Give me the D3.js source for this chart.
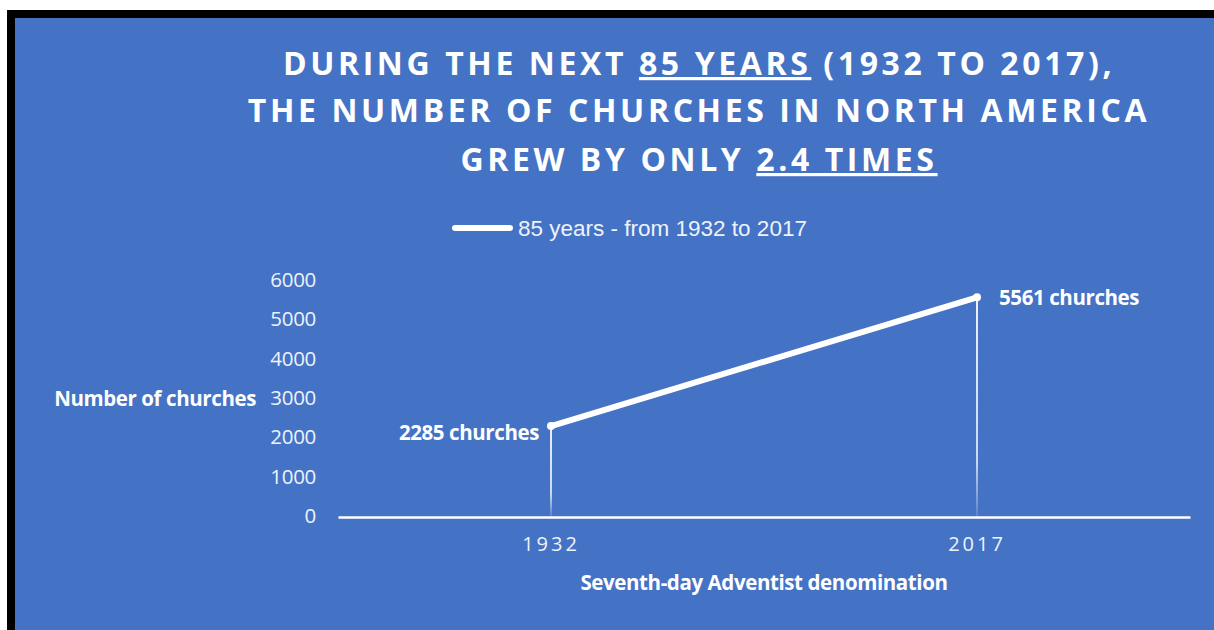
<!DOCTYPE html>
<html>
<head>
<meta charset="utf-8">
<script src="https://cdn.jsdelivr.net/npm/d3@7"></script>
<style>
  body { margin: 0; background: #fff; }
  svg { display: block; }
</style>
</head>
<body>
<div id="chart"></div>
<script>
// data
var years = ["1932", "2017"];
var churches = [2285, 5561];
var pointLabels = ["2285 churches", "5561 churches"];
var yTicks = [0, 1000, 2000, 3000, 4000, 5000, 6000];
var seriesName = "85 years - from 1932 to 2017";

var W = 1214, H = 630;
var svg = d3.select("#chart").append("svg")
  .attr("width", W).attr("height", H);

// frame
svg.append("rect").attr("x", 7).attr("y", 10).attr("width", W - 7).attr("height", H - 10).attr("fill", "#000");
svg.append("rect").attr("x", 15).attr("y", 18).attr("width", W - 15).attr("height", H - 18).attr("fill", "#4472c4");

var defs = svg.append("defs");
var grad = defs.append("linearGradient").attr("id", "fade")
  .attr("x1", 0).attr("y1", 0).attr("x2", 0).attr("y2", 1);
grad.append("stop").attr("offset", "0%").attr("stop-color", "#fff").attr("stop-opacity", 1);
grad.append("stop").attr("offset", "75%").attr("stop-color", "#fff").attr("stop-opacity", 0.8);
grad.append("stop").attr("offset", "100%").attr("stop-color", "#fff").attr("stop-opacity", 0.15);

// title
var title = svg.append("g")
  .attr("font-family", "'Open Sans', sans-serif")
  .attr("font-weight", "bold")
  .attr("font-size", 32)
  .attr("letter-spacing", 3.6)
  .attr("fill", "#fff")
  .attr("text-anchor", "middle");

var t1 = title.append("text").attr("x", 699).attr("y", 75);
t1.append("tspan").text("DURING THE NEXT ");
t1.append("tspan").style("text-decoration", "underline").text("85 YEARS");
t1.append("tspan").text(" (1932 TO 2017),");
title.append("text").attr("x", 699).attr("y", 122).text("THE NUMBER OF CHURCHES IN NORTH AMERICA");
var t3 = title.append("text").attr("x", 699).attr("y", 171);
t3.append("tspan").text("GREW BY ONLY ");
t3.append("tspan").style("text-decoration", "underline").text("2.4 TIMES");

// legend
svg.append("line").attr("x1", 455).attr("x2", 510).attr("y1", 228).attr("y2", 228)
  .attr("stroke", "#fff").attr("stroke-width", 6).attr("stroke-linecap", "round");
svg.append("text").attr("x", 518).attr("y", 236)
  .attr("font-family", "'Liberation Sans', Arial, sans-serif")
  .attr("font-size", 22.5).attr("fill", "#eef2fb")
  .text(seriesName);

// scales
var x = d3.scaleBand().domain(years).range([338, 1190]).padding(0);
var y = d3.scaleLinear().domain([0, 6000]).range([516, 280]);
var cx = function(d) { return x(d) + x.bandwidth() / 2; };

var labelFont = { family: "'Open Sans', sans-serif", size: 20.5, ls: -0.4 };

// y axis labels
var yAxis = svg.append("g")
  .attr("transform", "translate(316,0)")
  .call(d3.axisLeft(y).tickValues(yTicks).tickSize(0).tickPadding(0).tickFormat(d3.format("d")));
yAxis.select(".domain").remove();
yAxis.selectAll("text")
  .attr("font-family", labelFont.family)
  .attr("font-size", 20.5).attr("fill", "#eef2fb").attr("letter-spacing", -0.3);

svg.append("text").attr("x", 256).attr("y", 406).attr("text-anchor", "end")
  .attr("font-family", labelFont.family).attr("font-weight", "bold")
  .attr("font-size", labelFont.size).attr("letter-spacing", labelFont.ls).attr("fill", "#fff")
  .text("Number of churches");

// x axis
var xAxis = svg.append("g")
  .attr("transform", "translate(0,517)")
  .call(d3.axisBottom(x).tickSize(0).tickPadding(20));
xAxis.select(".domain").attr("stroke", "#fff").attr("stroke-width", 2.5);
xAxis.selectAll("text")
  .attr("font-family", labelFont.family)
  .attr("font-size", 20).attr("letter-spacing", 3).attr("fill", "#eef2fb");

svg.append("text").attr("x", 764).attr("y", 590).attr("text-anchor", "middle")
  .attr("font-family", labelFont.family).attr("font-weight", "bold")
  .attr("font-size", labelFont.size).attr("letter-spacing", labelFont.ls).attr("fill", "#fff")
  .text("Seventh-day Adventist denomination");

// drop lines
svg.selectAll("rect.drop").data(years).enter().append("rect")
  .attr("class", "drop")
  .attr("x", function(d) { return cx(d) - 0.9; })
  .attr("width", 1.8)
  .attr("y", function(d, i) { return y(churches[i]); })
  .attr("height", function(d, i) { return y(0) - y(churches[i]); })
  .attr("fill", "url(#fade)");

// line
var line = d3.line()
  .x(function(d) { return cx(d); })
  .y(function(d, i) { return y(churches[i]); });
svg.append("path").datum(years)
  .attr("d", line)
  .attr("fill", "none").attr("stroke", "#fff")
  .attr("stroke-width", 6).attr("stroke-linecap", "round");

svg.selectAll("circle.pt").data(years).enter().append("circle")
  .attr("cx", cx).attr("cy", function(d, i) { return y(churches[i]); })
  .attr("r", 4).attr("fill", "#fff");

// point labels
svg.append("text").attr("x", cx(years[0]) - 12).attr("y", y(churches[0]) + 14)
  .attr("text-anchor", "end")
  .attr("font-family", labelFont.family).attr("font-weight", "bold")
  .attr("font-size", labelFont.size).attr("letter-spacing", labelFont.ls).attr("fill", "#fff")
  .text(pointLabels[0]);
svg.append("text").attr("x", cx(years[1]) + 22).attr("y", y(churches[1]) + 8)
  .attr("font-family", labelFont.family).attr("font-weight", "bold")
  .attr("font-size", labelFont.size).attr("letter-spacing", labelFont.ls).attr("fill", "#fff")
  .text(pointLabels[1]);
</script>
</body>
</html>
